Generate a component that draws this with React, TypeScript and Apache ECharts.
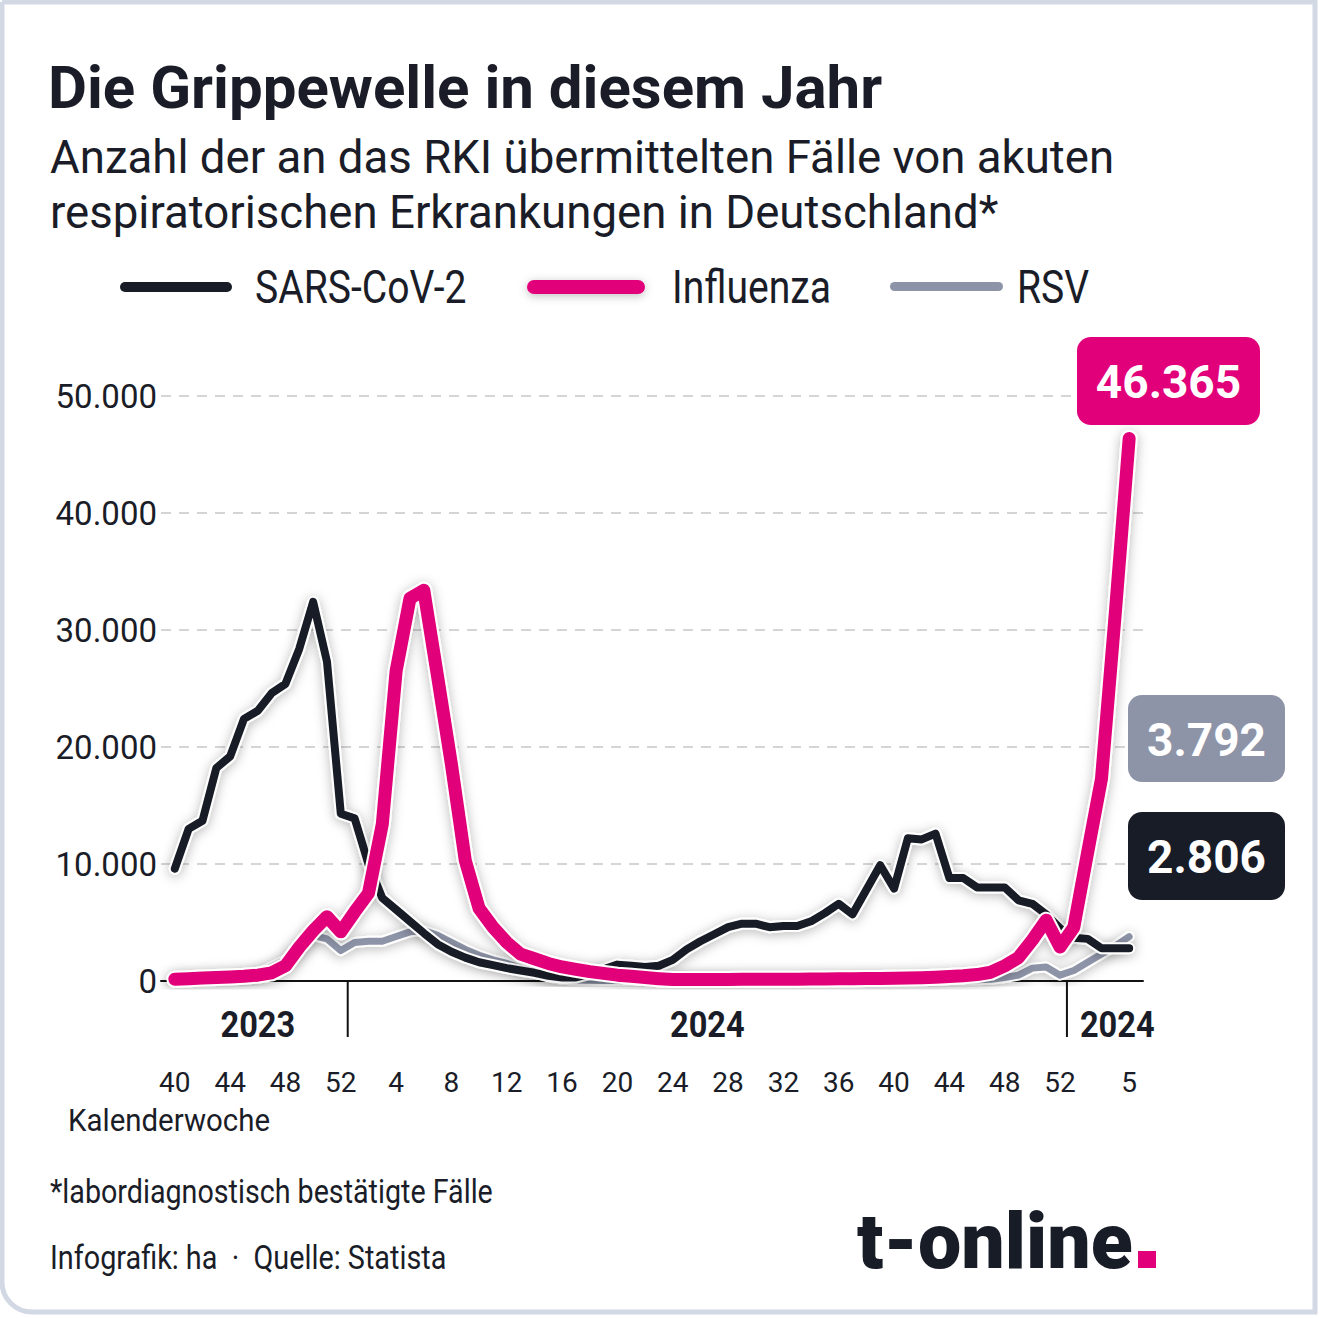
import React, { useEffect, useRef } from 'react';
import * as echarts from 'echarts';

// ---------- DATA ----------
const weeks2023 = ['40', '41', '42', '43', '44', '45', '46', '47', '48', '49', '50', '51', '52'];
const weeks2024 = [
  '1', '2', '3', '4', '5', '6', '7', '8', '9', '10', '11', '12', '13', '14', '15', '16', '17', '18', '19', '20',
  '21', '22', '23', '24', '25', '26', '27', '28', '29', '30', '31', '32', '33', '34', '35', '36', '37', '38', '39', '40',
  '41', '42', '43', '44', '45', '46', '47', '48', '49', '50', '51', '52',
];
const weeks2025 = ['1', '2', '3', '4', '5'];
const yearLabels = ['2023', '2024', '2024'];
const shownTicks2023 = ['40', '44', '48', '52'];
const shownTicks2024 = ['4', '8', '12', '16', '20', '24', '28', '32', '36', '40', '44', '48', '52'];
const shownTicks2025 = ['5'];
const yTicks = [0, 10000, 20000, 30000, 40000, 50000];

const sarsCov2 = [
  9600, 13000, 13700, 18200, 19200, 22400, 23100, 24600, 25400, 28400, 32400, 27300, 14300,
  13900, 10000, 7100, 6100, 5100, 4100, 3150, 2500, 2000, 1600, 1350, 1100, 900, 700, 450, 300, 300, 600, 1000, 1400,
  1300, 1200, 1300, 1800, 2700, 3400, 4000, 4600, 4900, 4900, 4600, 4700, 4700, 5100, 5800, 6600, 5700, 7800, 9900, 7900,
  12200, 12100, 12600, 8800, 8800, 8000, 8000, 8000, 6900, 6600, 5700, 4500,
  3700, 3600, 2800, 2800, 2806,
];
const influenza = [
  150, 200, 250, 300, 350, 400, 500, 700, 1300, 2900, 4300, 5500, 4200,
  5900, 7500, 13400, 26500, 32700, 33400, 26000, 18500, 10300, 6200, 4600, 3300, 2300, 1900, 1500, 1200, 1000, 800, 650, 500,
  400, 300, 200, 120, 120, 120, 130, 130, 140, 140, 150, 150, 160, 170, 180, 190, 200, 210, 220, 240,
  260, 280, 320, 380, 450, 550, 750, 1300, 2000, 3500, 5200, 2900,
  4600, 11000, 17300, 31500, 46365,
];
const rsv = [
  100, 150, 200, 250, 300, 400, 600, 1200, 1800, 2800, 3900, 3600, 2600,
  3300, 3400, 3400, 3800, 4200, 4300, 3900, 3300, 2700, 2200, 1800, 1500, 1100, 700, 350, 150, 80, 60, 50, 50,
  50, 50, 50, 50, 50, 50, 50, 50, 50, 50, 50, 50, 50, 50, 50, 50, 50, 50, 50, 50,
  50, 50, 50, 60, 80, 100, 150, 300, 500, 1100, 1200, 500,
  900, 1600, 2300, 3000, 3792,
];

const seriesNames = ['SARS-CoV-2', 'Influenza', 'RSV'];
const title = 'Die Grippewelle in diesem Jahr';
const subtitle = ['Anzahl der an das RKI übermittelten Fälle von akuten', 'respiratorischen Erkrankungen in Deutschland*'];
const footnote = '*labordiagnostisch bestätigte Fälle';
const credits = 'Infografik: ha  ·  Quelle: Statista';

// ---------- STYLE ----------
const C_BLACK = '#181c27';
const C_PINK = '#e2007a';
const C_GRAY = '#8e94a8';
const C_TEXT = '#1a1d27';
const FONT = 'Roboto, sans-serif';
const W = 1319;
const H = 1318;

const fmt = (v: number) => String(Math.round(v)).replace(/\B(?=(\d{3})+(?!\d))/g, '.');

export default function App() {
  const ref = useRef<HTMLDivElement>(null);

  useEffect(() => {
    if (!ref.current) return;
    const chart = echarts.init(ref.current, null, { renderer: 'svg', width: W, height: H });

    const categories = ['', ...weeks2023, ...weeks2024, ...weeks2025, ''];
    const pad = (a: number[]) => [null, ...a, null];
    const shown = new Set<number>();
    weeks2023.forEach((w, i) => { if (shownTicks2023.includes(w)) shown.add(1 + i); });
    weeks2024.forEach((w, i) => { if (shownTicks2024.includes(w)) shown.add(1 + weeks2023.length + i); });
    weeks2025.forEach((w, i) => { if (shownTicks2025.includes(w)) shown.add(1 + weeks2023.length + weeks2024.length + i); });

    const mk = (name: string, data: number[], color: string, width: number) => [
      {
        name: name + '-halo',
        type: 'line',
        data: pad(data),
        symbol: 'none',
        silent: true,
        emphasis: { disabled: true },
        lineStyle: {
          color: '#ffffff', width: width + 4, cap: 'round', join: 'round',
          shadowBlur: 12, shadowColor: 'rgba(0,0,0,0.28)', shadowOffsetY: 2,
        },
      },
      {
        name,
        type: 'line',
        data: pad(data),
        symbol: 'none',
        silent: true,
        emphasis: { disabled: true },
        lineStyle: { color, width, cap: 'round', join: 'round' },
      },
    ];

    chart.setOption({
      animation: false,
      grid: { left: 161, right: W - 1143, top: 396, bottom: H - 981, containLabel: false, outerBoundsMode: 'none' },
      xAxis: {
        type: 'category',
        data: categories,
        boundaryGap: false,
        axisLine: { show: true, lineStyle: { color: '#111111', width: 2 } },
        axisTick: { show: false },
        axisLabel: {
          interval: (idx: number) => shown.has(idx),
          margin: 87,
          color: C_TEXT,
          fontFamily: FONT,
          fontSize: 28,
          showMinLabel: true,
          showMaxLabel: true,
        },
        splitLine: { show: false },
      },
      yAxis: {
        type: 'value',
        min: yTicks[0],
        max: yTicks[yTicks.length - 1],
        interval: yTicks[1] - yTicks[0],
        axisLine: { show: false },
        axisTick: { show: false },
        axisLabel: { formatter: (v: number) => fmt(v), color: C_TEXT, fontFamily: FONT, fontSize: 33, margin: 4 },
        splitLine: { show: true, lineStyle: { color: '#c8c8c8', width: 1.5, type: [10, 8] } },
      },
      series: [
        ...mk(seriesNames[2], rsv, C_GRAY, 7),
        ...mk(seriesNames[0], sarsCov2, C_BLACK, 8),
        ...mk(seriesNames[1], influenza, C_PINK, 13),
      ],
    });

    const px = (i: number) => chart.convertToPixel({ xAxisIndex: 0 }, i) as number;
    const n1 = weeks2023.length;
    const n2 = weeks2024.length;
    const sep1 = (px(n1) + px(n1 + 1)) / 2;
    const sep2 = (px(n1 + n2) + px(n1 + n2 + 1)) / 2;
    const axisY = 981;
    const yearY = 1025;
    const year1X = (px(1) + px(n1)) / 2;
    const year2X = (px(n1 + 1) + px(n1 + n2)) / 2;

    const txt = (text: string, x: number, y: number, font: string, fill = C_TEXT, align = 'left', sx = 1) => ({
      type: 'text', x, y, scaleX: sx, silent: true, z: 50,
      style: { text, font, fill, align, verticalAlign: 'middle' },
    });
    const box = (text: string, x: number, y: number, w: number, h: number, fill: string) => ({
      type: 'group', z: 60, children: [
        { type: 'rect', shape: { x, y, width: w, height: h, r: 14 }, style: { fill } },
        txt(text, x + w / 2, y + h / 2 + 1, 'bold 46px Roboto', '#ffffff', 'center'),
      ],
    });

    const last = (a: number[]) => a[a.length - 1];
    const LEG = `46px ${FONT}`;
    const LSX = 0.85;

    chart.setOption({
      graphic: {
        elements: [
          { type: 'rect', z: 100, silent: true, shape: { x: 2, y: 2, width: W - 6, height: H - 8, r: [0, 0, 0, 30] }, style: { fill: 'none', stroke: '#d3d8e5', lineWidth: 5 } },
          txt(title, 48, 87, `bold 60px ${FONT}`),
          txt(subtitle[0], 50, 157, `45.6px ${FONT}`),
          txt(subtitle[1], 50, 212, `45.6px ${FONT}`),
          // legend
          { type: 'rect', z: 50, shape: { x: 120, y: 282, width: 112, height: 10, r: 5 }, style: { fill: C_BLACK } },
          txt(seriesNames[0], 255, 287, LEG, C_TEXT, 'left', LSX),
          { type: 'rect', z: 50, shape: { x: 527, y: 280, width: 118, height: 14, r: 7 }, style: { fill: C_PINK, shadowBlur: 10, shadowColor: 'rgba(0,0,0,0.25)', shadowOffsetY: 2 } },
          txt(seriesNames[1], 672, 287, LEG, C_TEXT, 'left', LSX),
          { type: 'rect', z: 50, shape: { x: 890, y: 282, width: 113, height: 9, r: 4.5 }, style: { fill: C_GRAY } },
          txt(seriesNames[2], 1017, 287, LEG, C_TEXT, 'left', LSX),
          // year separators
          { type: 'line', z: 50, shape: { x1: sep1, y1: axisY, x2: sep1, y2: 1037 }, style: { stroke: '#111111', lineWidth: 2 } },
          { type: 'line', z: 50, shape: { x1: sep2, y1: axisY, x2: sep2, y2: 1037 }, style: { stroke: '#111111', lineWidth: 2 } },
          txt(yearLabels[0], year1X, yearY, `bold 37px ${FONT}`, C_TEXT, 'center', 0.88),
          txt(yearLabels[1], year2X, yearY, `bold 37px ${FONT}`, C_TEXT, 'center', 0.88),
          txt(yearLabels[2], sep2 + 13, yearY, `bold 37px ${FONT}`, C_TEXT, 'left', 0.88),
          txt('Kalenderwoche', 68, 1120, `32px ${FONT}`, C_TEXT, 'left', 0.92),
          // value boxes
          box(fmt(last(influenza)), 1077, 337, 183, 88, C_PINK),
          box(fmt(last(rsv)), 1128, 695, 157, 87, C_GRAY),
          box(fmt(last(sarsCov2)), 1128, 812, 157, 88, C_BLACK),
          // footer
          txt(footnote, 50, 1192, `34px ${FONT}`, C_TEXT, 'left', 0.843),
          txt(credits, 50, 1258, `34px ${FONT}`, C_TEXT, 'left', 0.847),
          txt('t-online', 857, 1242, `900 77px ${FONT}`, C_BLACK),
          { type: 'rect', z: 50, shape: { x: 1138, y: 1251, width: 18, height: 17 }, style: { fill: C_PINK } },
        ],
      },
    });

    return () => chart.dispose();
  }, []);

  return (
    <div
      ref={ref}
      style={{ position: 'absolute', left: 0, top: 0, width: W, height: H, background: '#ffffff' }}
    />
  );
}
